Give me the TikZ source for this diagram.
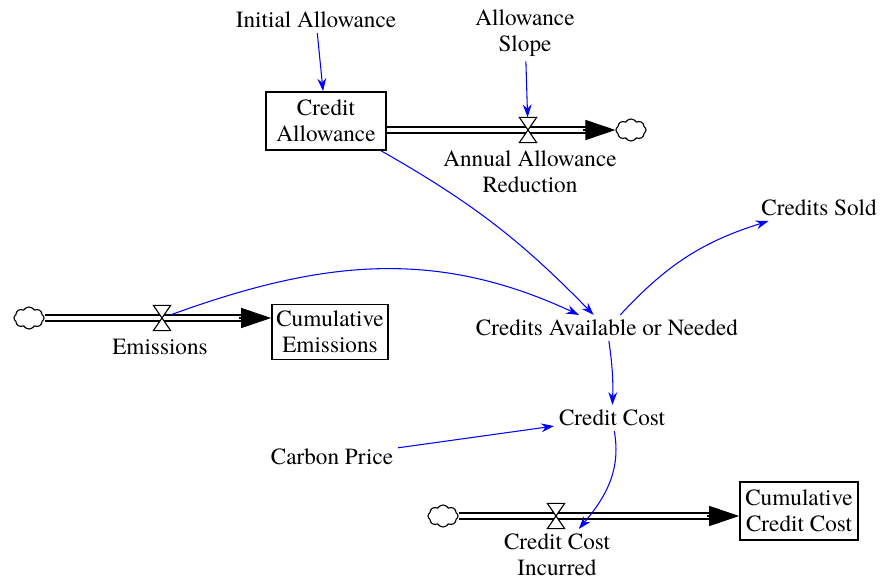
\documentclass[tikz,border=0pt]{standalone}
\usepackage{fontspec}
\setmainfont{TeX Gyre Termes}
\usetikzlibrary{shapes.symbols, arrows.meta, calc, backgrounds}
\definecolor{linkblue}{RGB}{0, 0, 255}
\tikzset{
  >=Stealth,
  linkarrow/.style={-{Stealth[length=3.2mm, width=2.2mm]}, line width=0.75pt, linkblue},
  pipeline/.style={double=white, double distance=1.2mm, line width=0.9pt, black},
  pipetip/.style={-{Triangle[length=7.5mm, width=5mm]}, line width=0.8pt, black}
}
\begin{document}
\begin{tikzpicture}[x=0.025cm, y=0.025cm,
    every node/.style={font=\rmfamily\fontsize{16.5}{18.5}\selectfont, align=center},
    stockbox/.style={rectangle, draw=black, line width=1.1pt, inner sep=1pt, minimum width=3.0cm, minimum height=1.45cm},
    valve/.style={rectangle, inner sep=0pt, minimum width=0.42cm, minimum height=0.62cm},
    valveshape/.style={fill=white, draw=black, line width=0.8pt},
    sink/.style={cloud, cloud puffs=8, cloud puff arc=120, aspect=1.4, draw=black, line width=0.8pt, inner sep=0pt, minimum width=0.75cm, minimum height=0.55cm}
]
    \useasboundingbox (0, 0) rectangle (881, 580);

    % Allowance chain
    \node (ia) at (316, 560) {Initial Allowance};
    \node (slope) at (525, 547) {Allowance\\Slope};
    \node[stockbox] (ca) at (326, 459) {Credit\\Allowance};
    \node[valve] (v1) at (528, 450) {};
    \node (aar) at (530, 408) {Annual Allowance\\Reduction};
    \node[sink] (c1) at (631, 450) {};

    % Credits
    \node (sold) at (819, 372) {Credits Sold};
    \node (cav) at (607, 252) {Credits Available or Needed};

    % Emissions chain
    \node[sink] (c2) at (29, 262) {};
    \node[valve] (v2) at (162, 262) {};
    \node (em) at (160, 233) {Emissions};
    \node[stockbox, minimum width=2.9cm, minimum height=1.375cm] (ce) at (330, 248) {Cumulative\\Emissions};

    % Cost chain
    \node (cc) at (612, 162) {Credit Cost};
    \node (cp) at (332, 123) {Carbon Price};
    \node[sink] (c3) at (443, 64) {};
    \node[valve] (v3) at (556, 64) {};
    \node (cci) at (557, 25) {Credit Cost\\Incurred};
    \node[stockbox, minimum width=2.95cm] (ccc) at (799, 69) {Cumulative\\Credit Cost};

    % Pipes (behind the valves)
    \begin{pgfonlayer}{background}
        \draw[pipeline, shorten >=7mm] (ca.east |- v1) -- (c1.west);
        \draw[pipeline, shorten >=7mm] (c2.east) -- (ce.west |- v2);
        \draw[pipeline, shorten >=7mm] (c3.east) -- (ccc.west |- v3);
    \end{pgfonlayer}
    \draw[pipetip] ($(c1.west)+(-0.8cm, 0)$) -- (c1.west);
    \draw[pipetip] ($(ce.west |- v2)+(-0.8cm, 0)$) -- (ce.west |- v2);
    \draw[pipetip] ($(ccc.west |- v3)+(-0.8cm, 0)$) -- (ccc.west |- v3);

    % Valves
    \foreach \v in {v1, v2, v3}
        \draw[valveshape] (\v.north west) -- (\v.north east) -- (\v.south west) -- (\v.south east) -- cycle;

    % Links
    \draw[linkarrow] (ia) -- (ca);
    \draw[linkarrow] (slope) -- (v1);
    \draw[linkarrow] (ca) to[bend left=8] (cav);
    \draw[linkarrow] (v2) to[out=20, in=155] (cav);
    \draw[linkarrow] (cav) to[bend left=15] (sold);
    \draw[linkarrow] (cav) to[bend left=5] (cc);
    \draw[linkarrow] (cp) -- (cc);
    \draw[linkarrow] (cc) to[out=-80, in=50] (cci);
\end{tikzpicture}
\end{document}
